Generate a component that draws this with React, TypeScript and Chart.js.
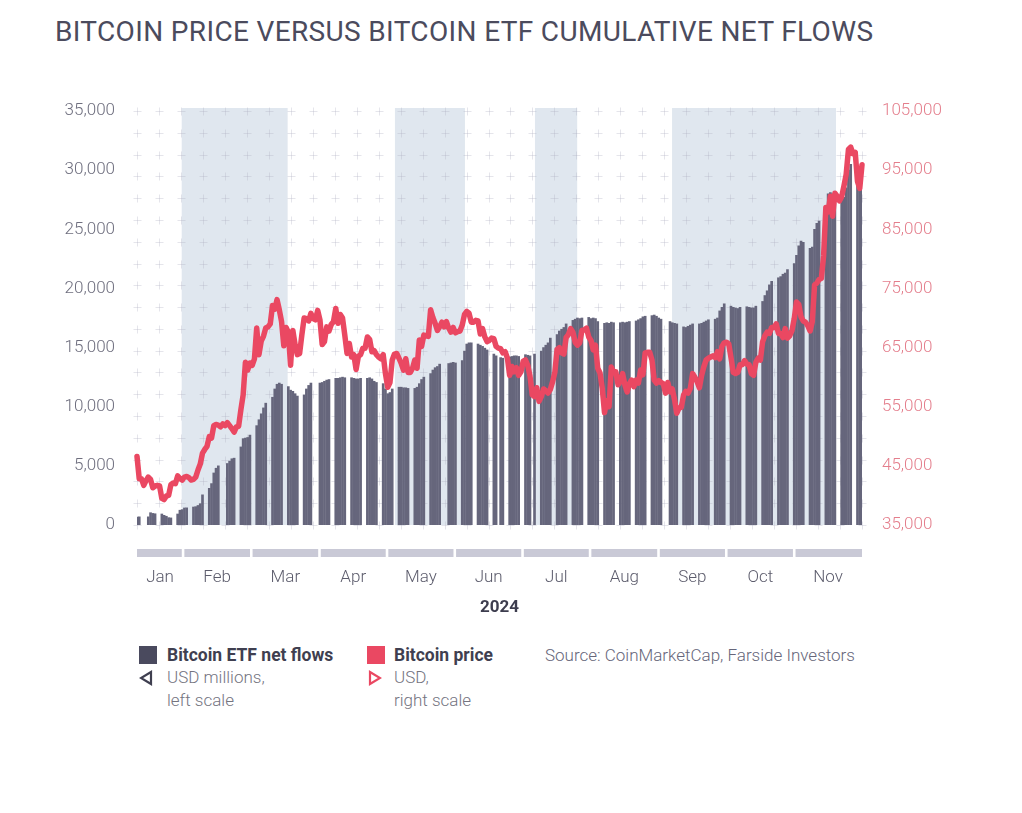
import React, { useEffect, useRef } from 'react';
import { Chart, registerables } from 'chart.js';

Chart.register(...registerables);

// x values are day-of-year 2024 (0 = Jan 1)
const X_MIN = 10; // Jan 11, first ETF trading day
const X_MAX = 331; // Nov 27

const monthLabels = ['Jan', 'Feb', 'Mar', 'Apr', 'May', 'Jun', 'Jul', 'Aug', 'Sep', 'Oct', 'Nov'];
// month strip edges as drawn in the original (day-of-year)
const monthEdges = [10, 30.4, 60.6, 90.8, 120.7, 150.7, 180.7, 210.6, 240.9, 270.9, 301, 331];
// shaded periods (day-of-year start / end)
const bandStarts = [29.8, 124.2, 186.2, 246.9];
const bandEnds = [76.7, 155.2, 204.9, 319.5];

const leftTicks = [0, 5000, 10000, 15000, 20000, 25000, 30000, 35000];
const rightTicks = [35000, 45000, 55000, 65000, 75000, 85000, 95000, 105000];

// US market holidays (day-of-year) with no ETF flow bar
const holidays = [14, 49, 88, 147, 170, 185, 245];

// Cumulative ETF net flows, USD millions, one value per trading day
const flowsJan = [680, 690, 690, 1040, 980, 950, 930, 820, 740, 620, 600, 930, 1250, 1300];
const flowsFeb = [1440, 1450, 1520, 1550, 1650, 1800, 2550, 3100, 3500, 4400, 4800, 5000, 5200, 5400, 5600, 5650, 6600, 7300, 7350, 7400];
const flowsMar = [7600, 8400, 8900, 9400, 9900, 10300, 10800, 11500, 11900, 12000, 11900, 11700, 11400, 11300, 11100, 10900, 11000, 11500, 11800, 12000];
const flowsApr = [12000, 12050, 12150, 12250, 12300, 12400, 12400, 12450, 12500, 12450, 12450, 12400, 12350, 12350, 12400, 12400, 12450, 12350, 12150, 12050, 11950, 11500];
const flowsMay = [11100, 11200, 11500, 11650, 11650, 11600, 11600, 11550, 11550, 11650, 11950, 12300, 12500, 12800, 13100, 13300, 13400, 13600, 13650, 13700, 13750, 13700];
const flowsJun = [13900, 14700, 15300, 15400, 15400, 15300, 15200, 15100, 14950, 14800, 14450, 14300, 14150, 14100, 14200, 14250, 14300, 14300, 14250];
const flowsJul = [14400, 14350, 14300, 14450, 14700, 15000, 15200, 15400, 15800, 16100, 16400, 16550, 16700, 17000, 17300, 17400, 17500, 17450, 17500, 17550, 17450, 17500];
const flowsAug = [17450, 17200, 17050, 17100, 17050, 17150, 17100, 17100, 17150, 17100, 17150, 17200, 17250, 17350, 17450, 17600, 17650, 17700, 17750, 17650, 17500, 17400];
const flowsSep = [17200, 17100, 17050, 17000, 16750, 16700, 16800, 16900, 17000, 17000, 17050, 17150, 17250, 17350, 17400, 17500, 18100, 18400, 18700, 18500];
const flowsOct = [18400, 18350, 18300, 18400, 18450, 18400, 18350, 18350, 18500, 18900, 19400, 19800, 20300, 20600, 20900, 21000, 21200, 21300, 21600, 22100, 22800, 23600, 24000];
const flowsNov = [23900, 23400, 23500, 25000, 25500, 25700, 26800, 28000, 28100, 28000, 27600, 27500, 27700, 28500, 30000, 30500, 28800, 28300, 28400];

// Bitcoin daily close, USD, one value per calendar day from Jan 11
const priceJan = [46600, 42800, 42800, 41700, 42500, 43100, 42700, 41300, 41600, 41700, 41600, 39500, 39300, 39900, 40000, 41800, 42100, 42000, 43300, 42900, 42600];
const priceFeb = [43100, 43200, 43000, 42600, 42700, 43100, 44300, 45300, 47150, 47770, 48300, 49950, 49700, 51800, 52000, 51900, 51600, 52100, 51800, 52300, 51800, 51300, 50700, 51600, 51700, 54500, 57000, 62500, 61200];
const priceMar = [62400, 62000, 63100, 68300, 63800, 66100, 66900, 68300, 68500, 69000, 72100, 71500, 73100, 71400, 69400, 65300, 68400, 67600, 62000, 67900, 65500, 63800, 64000, 67200, 70000, 69900, 69500, 70800, 69900, 69700, 71300];
const priceApr = [69700, 65500, 66000, 68500, 67800, 68900, 69400, 71600, 69100, 70600, 70000, 67100, 64000, 65700, 63400, 63800, 61300, 63500, 63800, 64900, 64900, 66800, 66400, 64300, 64500, 63800, 63400, 63100, 63800, 60600];
const priceMay = [58300, 59100, 62900, 63900, 64000, 63200, 62300, 61200, 63100, 60800, 60800, 61500, 62900, 61500, 66300, 65200, 67100, 67000, 66900, 71400, 70100, 69100, 67900, 68500, 69300, 68500, 69400, 68300, 67600, 68400, 67500];
const priceJun = [67700, 67800, 68800, 70600, 71100, 70800, 69300, 69300, 69600, 69500, 67300, 68200, 66800, 66000, 66200, 66600, 66500, 65200, 64900, 64800, 64100, 64300, 63200, 60300, 61800, 60900, 61600, 60300, 60900, 62700];
const priceJul = [62900, 62000, 60200, 57000, 56700, 58200, 55900, 56700, 58000, 57700, 57300, 57900, 59200, 60800, 64700, 65000, 64100, 63900, 66700, 67200, 68200, 67600, 65900, 65400, 65800, 67900, 68000, 68300, 66800, 66200, 64600];
const priceAug = [65400, 61500, 60700, 58100, 54000, 56000, 55000, 61700, 60900, 60900, 58700, 59300, 60600, 58700, 57500, 58900, 59500, 58400, 59500, 59000, 61200, 60400, 64100, 64200, 64200, 62900, 59500, 59000, 59400, 59100, 58900];
const priceSep = [57300, 59100, 57500, 58000, 56200, 53900, 54800, 54900, 57000, 57600, 57300, 58100, 60600, 60000, 59200, 58200, 60300, 61800, 62900, 63200, 63400, 63600, 63300, 64300, 63100, 65200, 65800, 65900, 65600, 63300];
const priceOct = [60800, 60600, 60800, 62100, 62100, 62800, 62200, 62100, 60600, 60300, 62500, 63200, 62900, 66000, 67000, 67600, 67400, 68400, 68400, 69000, 67400, 67400, 66700, 68200, 66600, 67000, 67900, 69900, 72700, 72300, 70200];
const priceNov = [69500, 69300, 68700, 67800, 69400, 75600, 75900, 76500, 76700, 80500, 88700, 87900, 90600, 87200, 91100, 90600, 89800, 90500, 92300, 94300, 98500, 98900, 97800, 98000, 93100, 91900, 95900];

const flowValues = [
  ...flowsJan, ...flowsFeb, ...flowsMar, ...flowsApr, ...flowsMay, ...flowsJun,
  ...flowsJul, ...flowsAug, ...flowsSep, ...flowsOct, ...flowsNov,
];
const priceValues = [
  ...priceJan, ...priceFeb, ...priceMar, ...priceApr, ...priceMay, ...priceJun,
  ...priceJul, ...priceAug, ...priceSep, ...priceOct, ...priceNov,
];

// trading days: weekdays that are not holidays (2024-01-01 was a Monday)
const tradingDays: number[] = [];
for (let d = X_MIN; d <= X_MAX; d++) {
  const weekday = d % 7; // 0 = Mon ... 5 = Sat, 6 = Sun
  if (weekday < 5 && !holidays.includes(d)) tradingDays.push(d);
}

const flowPoints = flowValues.map((y, i) => ({ x: tradingDays[i], y }));
const pricePoints = priceValues.map((y, i) => ({ x: X_MIN + i, y }));

const BAR = '#66667c';
const RED = '#ea4862';

const backdrop = {
  id: 'backdrop',
  beforeDatasetsDraw(chart: any) {
    const { ctx, chartArea, scales } = chart;
    const x = scales.x;
    ctx.save();
    // shaded periods
    ctx.fillStyle = '#e0e7ef';
    bandStarts.forEach((s, i) => {
      const a = x.getPixelForValue(s);
      const b = x.getPixelForValue(bandEnds[i]);
      ctx.fillRect(a, chartArea.top - 3, b - a, chartArea.bottom - chartArea.top + 3);
    });
    // cross pattern
    ctx.strokeStyle = 'rgba(175,175,192,0.32)';
    ctx.lineWidth = 1;
    const cols = 33;
    const rows = 19;
    const w = chartArea.right - chartArea.left;
    const h = chartArea.bottom - chartArea.top;
    ctx.beginPath();
    for (let i = 0; i <= cols; i++) {
      const cx = Math.round(chartArea.left + (i * w) / cols) + 0.5;
      for (let j = 0; j <= rows; j++) {
        const cy = Math.round(chartArea.top + (j * h) / rows) + 0.5;
        ctx.moveTo(cx - 4, cy);
        ctx.lineTo(cx + 4, cy);
        ctx.moveTo(cx, cy - 4);
        ctx.lineTo(cx, cy + 4);
      }
    }
    ctx.stroke();
    // month strip under the axis
    ctx.fillStyle = '#c9c9d6';
    for (let i = 0; i < monthLabels.length; i++) {
      const a = i === 0 ? chartArea.left : x.getPixelForValue(monthEdges[i]) + 1.3;
      const b = i === monthLabels.length - 1 ? chartArea.right : x.getPixelForValue(monthEdges[i + 1]) - 1.3;
      ctx.fillRect(a, chartArea.bottom + 24, b - a, 8);
    }
    ctx.restore();
  },
};

const ChartBox: React.FC = () => {
  const canvasRef = useRef<HTMLCanvasElement>(null);
  const chartRef = useRef<Chart | null>(null);

  useEffect(() => {
    if (!canvasRef.current) return;
    if (chartRef.current) chartRef.current.destroy();

    const tickFont = { family: 'Roboto', size: 17, weight: 300 as any };

    chartRef.current = new Chart(canvasRef.current, {
      type: 'bar',
      data: {
        datasets: [
          {
            type: 'line',
            label: 'Bitcoin price',
            data: pricePoints,
            yAxisID: 'y1',
            borderColor: RED,
            borderWidth: 5.5,
            pointRadius: 0,
            tension: 0,
            borderJoinStyle: 'round',
            borderCapStyle: 'round',
            clip: false,
            order: 0,
          } as any,
          {
            type: 'bar',
            label: 'Bitcoin ETF net flows',
            data: flowPoints,
            yAxisID: 'y',
            backgroundColor: BAR,
            barThickness: 2,
            borderWidth: 0,
            order: 1,
          } as any,
        ],
      },
      options: {
        animation: false,
        responsive: true,
        maintainAspectRatio: false,
        layout: { padding: { top: 110, left: 0, right: 0, bottom: 0 } },
        plugins: {
          legend: { display: false },
          tooltip: { enabled: false },
        },
        scales: {
          x: {
            type: 'linear',
            min: X_MIN,
            max: X_MAX,
            offset: false,
            grid: { display: false },
            border: { display: false },
            afterBuildTicks: (scale: any) => {
              scale.ticks = monthLabels.map((_, i) => ({ value: (monthEdges[i] + monthEdges[i + 1]) / 2 }));
            },
            afterFit: (scale: any) => {
              scale.height = 116;
            },
            ticks: {
              autoSkip: false,
              maxRotation: 0,
              minRotation: 0,
              padding: 35,
              color: '#5c5c6c',
              font: tickFont,
              callback: (_v: any, i: number) => monthLabels[i],
            },
            title: {
              display: true,
              text: '2024',
              color: '#3d3d4e',
              font: { family: 'Roboto', size: 17, weight: 'bold' },
              padding: { top: 0, bottom: 23 },
            },
          },
          y: {
            position: 'left',
            min: 0,
            max: 35000,
            grid: { display: false, drawTicks: false },
            border: { display: false },
            afterBuildTicks: (scale: any) => {
              scale.ticks = leftTicks.map((value) => ({ value }));
            },
            afterFit: (scale: any) => {
              scale.width = 137;
            },
            ticks: {
              padding: 22,
              color: '#6e6e7e',
              font: tickFont,
              callback: (v: any) => Number(v).toLocaleString('en-US'),
            },
          },
          y1: {
            position: 'right',
            min: 35000,
            max: 105000,
            grid: { display: false, drawTicks: false },
            border: { display: false },
            afterBuildTicks: (scale: any) => {
              scale.ticks = rightTicks.map((value) => ({ value }));
            },
            afterFit: (scale: any) => {
              scale.width = 160;
            },
            ticks: {
              padding: 20,
              color: '#e47e8c',
              font: tickFont,
              callback: (v: any) => Number(v).toLocaleString('en-US'),
            },
          },
        },
      },
      plugins: [backdrop],
    });

    return () => {
      if (chartRef.current) {
        chartRef.current.destroy();
        chartRef.current = null;
      }
    };
  }, []);

  return (
    <div style={{ position: 'absolute', left: 0, top: 1, width: 1022, height: 640 }}>
      <canvas ref={canvasRef}></canvas>
    </div>
  );
};

const Triangle: React.FC<{ dir: 'left' | 'right'; color: string }> = ({ dir, color }) => (
  <svg width="14" height="16" viewBox="0 0 14 16" style={{ position: 'absolute', left: 0, top: 3 }}>
    <polygon
      points={dir === 'left' ? '12,2 12,14 2,8' : '2,2 2,14 12,8'}
      fill="none"
      stroke={color}
      strokeWidth="2.2"
      strokeLinejoin="miter"
    />
  </svg>
);

const App: React.FC = () => {
  const text: React.CSSProperties = { fontFamily: 'Roboto', fontSize: 17, lineHeight: '23px' };
  return (
    <div style={{ position: 'fixed', left: 0, top: 0, width: 1022, height: 813, background: '#fff', overflow: 'hidden' }}>
      <div
        style={{
          position: 'absolute', left: 55, top: 15, fontFamily: 'Roboto', fontSize: 28,
          color: '#4b4b5d', whiteSpace: 'nowrap', letterSpacing: 0.35,
        }}
      >
        BITCOIN PRICE VERSUS BITCOIN ETF CUMULATIVE NET FLOWS
      </div>

      <ChartBox />

      {/* legend */}
      <div style={{ position: 'absolute', left: 139, top: 644, ...text }}>
        <div style={{ position: 'absolute', left: 0, top: 2, width: 18, height: 18, background: '#4a4a5e' }} />
        <div style={{ position: 'absolute', left: 28, top: 0, fontWeight: 700, fontSize: 17.5, color: '#3f3f50', whiteSpace: 'nowrap' }}>
          Bitcoin ETF net flows
        </div>
        <div style={{ position: 'absolute', left: 0, top: 23 }}>
          <Triangle dir="left" color="#3f3f50" />
        </div>
        <div style={{ position: 'absolute', left: 28, top: 22, color: '#74747f', fontWeight: 300, whiteSpace: 'nowrap' }}>
          USD millions,<br />left scale
        </div>
      </div>

      <div style={{ position: 'absolute', left: 367, top: 644, ...text }}>
        <div style={{ position: 'absolute', left: 0, top: 2, width: 18, height: 18, background: RED }} />
        <div style={{ position: 'absolute', left: 27, top: 0, fontWeight: 700, fontSize: 17.5, color: '#3f3f50', whiteSpace: 'nowrap' }}>
          Bitcoin price
        </div>
        <div style={{ position: 'absolute', left: 1, top: 23 }}>
          <Triangle dir="right" color={RED} />
        </div>
        <div style={{ position: 'absolute', left: 27, top: 22, color: '#74747f', fontWeight: 300, whiteSpace: 'nowrap' }}>
          USD,<br />right scale
        </div>
      </div>

      <div
        style={{
          position: 'absolute', left: 545, top: 644, ...text, color: '#66667a', fontWeight: 300, whiteSpace: 'nowrap',
        }}
      >
        Source: CoinMarketCap, Farside Investors
      </div>
    </div>
  );
};

export default App;
